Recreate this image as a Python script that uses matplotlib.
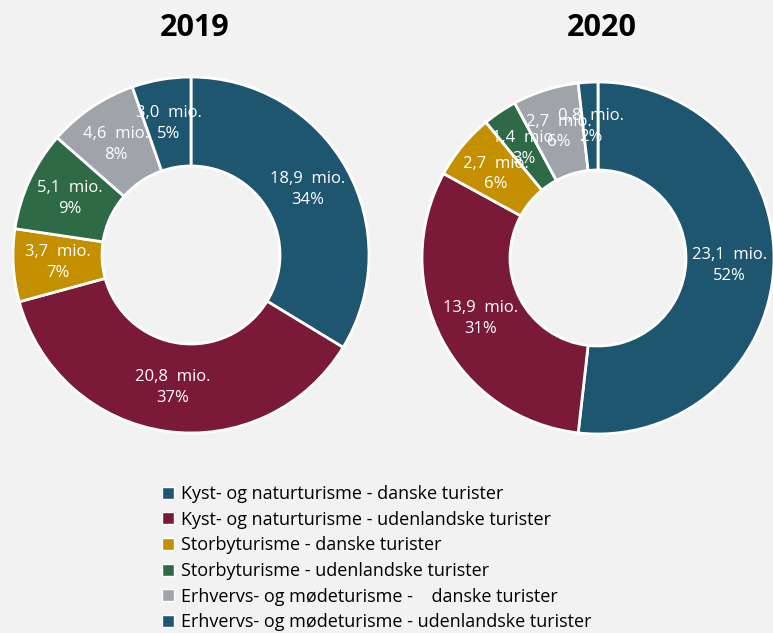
import matplotlib
matplotlib.use('Agg')
import matplotlib.pyplot as plt
from matplotlib.patches import Patch

plt.rcParams['font.family'] = ['Open Sans', 'DejaVu Sans']

# data
categories = ['Kyst- og naturturisme - danske turister',
              'Kyst- og naturturisme - udenlandske turister',
              'Storbyturisme - danske turister',
              'Storbyturisme - udenlandske turister',
              'Erhvervs- og mødeturisme -    danske turister',
              'Erhvervs- og mødeturisme - udenlandske turister']
values_2019 = [18.9, 20.8, 3.7, 5.1, 4.6, 3.0]
values_2020 = [23.1, 13.9, 2.7, 1.4, 2.7, 0.8]
years = ['2019', '2020']
colors = ['#1f566f', '#7a1a38', '#c49000', '#2e6a45', '#9ea4aa', '#1f566f']

bg = '#f2f2f2'
W, H = 773, 633
fig = plt.figure(figsize=(W / 100, H / 100), dpi=100, facecolor=bg)

lim = 1.1
# (center x, center y, radius) in pixels
layout = [(191, 255, 178), (598, 258, 176)]

for vals, year, (cx, cy, r) in zip([values_2019, values_2020], years, layout):
    size = r * lim * 2
    ax = fig.add_axes([(cx - size / 2) / W, (H - cy - size / 2) / H, size / W, size / H])
    ax.set_facecolor(bg)
    total = sum(vals)

    def fmt(p, vals=vals, total=total):
        v = p * total / 100
        return ('%.1f  mio.' % v).replace('.', ',', 1) + '\n%d%%' % round(p)

    wedges, texts, autotexts = ax.pie(vals, colors=colors, startangle=90, counterclock=False,
                                      radius=1, autopct=fmt, pctdistance=0.75,
                                      wedgeprops=dict(width=0.5, edgecolor='white', linewidth=2),
                                      textprops=dict(color='white', fontsize=12, linespacing=1.4))
    for t in autotexts:
        t.set_ha('center')
        t.set_va('center')
    ax.set_xlim(-lim, lim)
    ax.set_ylim(-lim, lim)
    ax.set_aspect('equal')
    fig.text(cx / W + 0.005, 1 - 28 / H, year, ha='center', va='center',
             fontsize=22, fontweight='bold', color='black')

handles = [Patch(facecolor=c, edgecolor='white', label=l) for c, l in zip(colors, categories)]
fig.legend(handles=handles, loc='upper left', bbox_to_anchor=(155 / W, 1 - 478 / H),
           frameon=False, fontsize=13, handlelength=0.65, handleheight=0.65,
           handletextpad=0.4, labelspacing=0.42, borderaxespad=0)

fig.savefig('out.png', dpi=100, facecolor=bg)
